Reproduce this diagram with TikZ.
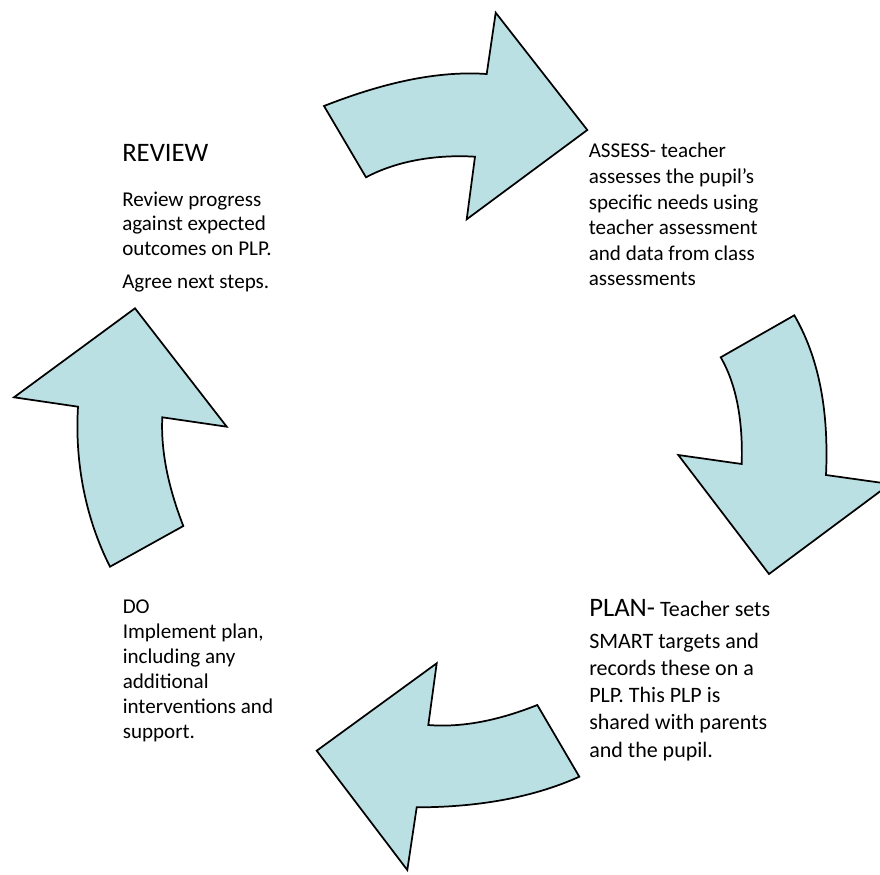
\documentclass[tikz,border=0pt]{standalone}
\usepackage{fontspec}
\setmainfont{Carlito}
\definecolor{arrowfill}{RGB}{187,224,228}
\tikzset{
  bigarrow/.style={draw=black, fill=arrowfill, line width=1.3pt, line join=miter},
  txt/.style={inner sep=0pt, anchor=base west, font=\fontsize{15.8}{19}\selectfont},
  txtb/.style={inner sep=0pt, anchor=base west, font=\fontsize{16.5}{19}\selectfont},
  title/.style={inner sep=0pt, anchor=base west, font=\fontsize{20}{24}\selectfont}
}
\begin{document}
\begin{tikzpicture}[x=0.75pt, y=-0.75pt]
\clip (0,0) rectangle (880,874);
\fill[white] (0,0) rectangle (880,874);

% top arrow (pointing right)
\coordinate (a1) at (324,106);
\coordinate (a2) at (486.7,74);
\coordinate (a3) at (495.7,12.7);
\coordinate (a4) at (587.3,130);
\coordinate (a5) at (466.7,219.3);
\coordinate (a6) at (475,156.7);
\coordinate (a7) at (366,177.3);
\draw[bigarrow] (a1) .. controls (375,86) and (431.8,70.2) .. (a2) -- (a3) -- (a4) -- (a5) -- (a6)
  .. controls (438.7,154.5) and (398.6,159.9) .. (a7) -- cycle;

% right arrow (pointing down)
\coordinate (b1) at (720.7,357.3);
\coordinate (b2) at (794.3,315.3);
\coordinate (b3) at (826,475);
\coordinate (b4) at (890,484);
\coordinate (b5) at (769,574);
\coordinate (b6) at (678.3,455);
\coordinate (b7) at (741.7,464);
\draw[bigarrow] (b1) -- (b2) .. controls (822.5,364) and (828.4,421) .. (b3) -- (b4) -- (b5) -- (b6) -- (b7)
  .. controls (742.8,428) and (738.7,388.3) .. (b1) -- cycle;

% bottom arrow (pointing left)
\coordinate (c1) at (436.7,663.3);
\coordinate (c2) at (428.3,725);
\coordinate (c3) at (537.3,705);
\coordinate (c4) at (579.3,776.7);
\coordinate (c5) at (416.7,807.3);
\coordinate (c6) at (407.3,870);
\coordinate (c7) at (316.7,750.7);
\draw[bigarrow] (c1) -- (c2) .. controls (465.3,728) and (502.9,718.7) .. (c3) -- (c4)
  .. controls (529.3,799.3) and (471.7,807.3) .. (c5) -- (c6) -- (c7) -- cycle;

% left arrow (pointing up)
\coordinate (d1) at (135,308.3);
\coordinate (d2) at (226.7,426.7);
\coordinate (d3) at (162.3,417.3);
\coordinate (d4) at (183.3,526);
\coordinate (d5) at (110,566.7);
\coordinate (d6) at (78,406.7);
\coordinate (d7) at (14,397.3);
\draw[bigarrow] (d1) -- (d2) -- (d3) .. controls (160.5,454.3) and (170,491.6) .. (d4) -- (d5)
  .. controls (85.2,517.7) and (74.7,461.7) .. (d6) -- (d7) -- cycle;

% REVIEW
\node[title] (rt) at (122,161) {REVIEW};
\node[txt] (r1) at (122,206) {Review progress};
\node[txt] (r2) at (122,230) {against expected};
\node[txt] (r3) at (122,255) {outcomes on PLP.};
\node[txt] (r4) at (122,288) {Agree next steps.};

% ASSESS
\node[txt] (s1) at (588.5,157.3) {ASSESS- teacher};
\node[txt] (s2) at (588.5,183) {assesses the pupil’s};
\node[txt] (s3) at (588.5,209) {specific needs using};
\node[txt] (s4) at (588.5,234.5) {teacher assessment};
\node[txt] (s5) at (588.5,260) {and data from class};
\node[txt] (s6) at (588.5,285.5) {assessments};

% PLAN
\node[txtb] (p1) at (589,616.7) {{\fontsize{20}{24}\selectfont PLAN-} Teacher sets};
\node[txtb] (p2) at (589,648) {SMART targets and};
\node[txtb] (p3) at (589,675.3) {records these on a};
\node[txtb] (p4) at (589,702.5) {PLP. This PLP is};
\node[txtb] (p5) at (589,729.8) {shared with parents};
\node[txtb] (p6) at (589,757) {and the pupil.};

% DO
\node[txt] (o1) at (122.5,613.3) {DO};
\node[txt] (o2) at (122.5,638.3) {Implement plan,};
\node[txt] (o3) at (122.5,663.3) {including any};
\node[txt] (o4) at (122.5,688.3) {additional};
\node[txt] (o5) at (122.5,713.3) {interventions and};
\node[txt] (o6) at (122.5,738.3) {support.};
\end{tikzpicture}
\end{document}
